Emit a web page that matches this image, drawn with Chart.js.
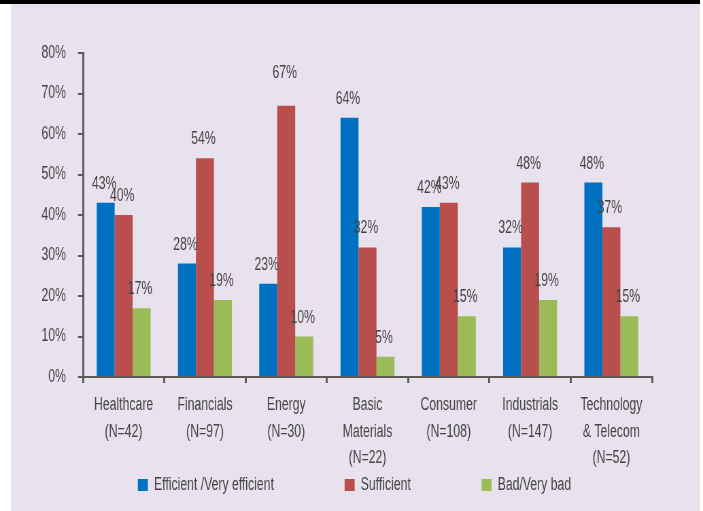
<!DOCTYPE html>
<html>
<head>
<meta charset="utf-8">
<script src="https://cdn.jsdelivr.net/npm/chart.js@4.4.1/dist/chart.umd.min.js"></script>
<style>
  html, body { margin: 0; padding: 0; background: #ffffff; }
  #wrap { position: relative; width: 703px; height: 511px; overflow: hidden; }
  #bg { position: absolute; left: 11px; top: 0; width: 689px; height: 511px; background: #E8E2EE; }
  #topbar { position: absolute; left: 0; top: 0; width: 700px; height: 4px; background: #000; }
  #c { position: absolute; left: 0; top: 0; transform: scaleX(0.679884); transform-origin: 0 0; }
</style>
</head>
<body>
<div id="wrap">
  <div id="bg"></div>
  <div id="topbar"></div>
  <canvas id="c" width="1034" height="511"></canvas>
</div>
<script>
const categories = [
  ["Healthcare", "(N=42)"],
  ["Financials", "(N=97)"],
  ["Energy", "(N=30)"],
  ["Basic", "Materials", "(N=22)"],
  ["Consumer", "(N=108)"],
  ["Industrials", "(N=147)"],
  ["Technology", "& Telecom", "(N=52)"]
];
const efficient = [43, 28, 23, 64, 42, 32, 48];
const sufficient = [40, 54, 67, 32, 43, 48, 37];
const bad = [17, 19, 10, 5, 15, 19, 15];
const seriesNames = ["Efficient /Very efficient", "Sufficient", "Bad/Very bad"];
const yTicks = [0, 10, 20, 30, 40, 50, 60, 70, 80];

// the canvas is drawn wide and squeezed horizontally (condensed lettering)
const SX = 0.679884;
const px = (v) => v / SX;

const FONT = "'Liberation Sans', Arial, sans-serif";
const TXT = '#444444';
const AXIS = '#5a5a5a';
const LEGEND_CENTER_Y = 485;

const valueLabels = {
  id: 'valueLabels',
  afterDatasetsDraw(chart, args, opts) {
    const ctx = chart.ctx;
    const lift = opts.extraLift || {};
    ctx.save();
    ctx.font = "18px " + FONT;
    ctx.fillStyle = TXT;
    ctx.textAlign = 'center';
    ctx.textBaseline = 'alphabetic';
    chart.data.datasets.forEach((ds, i) => {
      const meta = chart.getDatasetMeta(i);
      meta.data.forEach((el, j) => {
        const extra = lift[i + ':' + j] || 0;
        ctx.fillText(ds.data[j] + '%', el.x - px(1.5), el.y - 14 - extra);
      });
    });
    ctx.restore();
  }
};

// legend: wide horizontal gaps but compact vertical footprint
const legendPlacement = {
  id: 'legendPlacement',
  beforeLayout(chart) {
    const lg = chart.legend;
    if (lg && !lg._fitWrapped) {
      const origFit = lg.fit;
      lg.fit = function () { origFit.call(this); this.height = 26; };
      lg._fitWrapped = true;
    }
  },
  afterLayout(chart) {
    const lg = chart.legend;
    if (!lg) return;
    const pad = lg.options.labels.padding;
    const itemH = Math.max(lg.options.labels.font.size, lg.options.labels.boxHeight);
    lg.top = LEGEND_CENTER_Y - itemH / 2 - pad;
    lg.bottom = chart.height;
    lg.height = lg.bottom - lg.top;
    lg.left += px(3);
    lg.right += px(3);
  }
};

new Chart(document.getElementById('c'), {
  type: 'bar',
  data: {
    labels: categories,
    datasets: [
      { label: seriesNames[0], data: efficient, backgroundColor: '#0070C0' },
      { label: seriesNames[1], data: sufficient, backgroundColor: '#B94F4D' },
      { label: seriesNames[2], data: bad, backgroundColor: '#9BBB59' }
    ]
  },
  options: {
    responsive: false,
    animation: false,
    devicePixelRatio: 1,
    categoryPercentage: 0.664,
    barPercentage: 1.0,
    layout: { padding: { top: 53, right: 0, left: 0, bottom: 8 } },
    plugins: {
      tooltip: { enabled: false },
      valueLabels: { extraLift: { '1:2': 14 } },
      legend: {
        position: 'bottom',
        labels: {
          boxWidth: px(10),
          boxHeight: 12,
          padding: 104,
          color: TXT,
          font: { family: FONT, size: 18 }
        }
      }
    },
    scales: {
      x: {
        grid: { display: true, drawOnChartArea: false, drawTicks: true, tickLength: 6, color: AXIS, lineWidth: px(2), offset: true },
        border: { display: true, color: AXIS, width: 2 },
        ticks: { color: TXT, padding: 9, maxRotation: 0, autoSkip: false, font: { family: FONT, size: 18, lineHeight: 1.467 } },
        afterFit: (s) => { s.height = 100; }
      },
      y: {
        min: 0, max: 80,
        afterBuildTicks: (s) => { s.ticks = yTicks.map(v => ({ value: v })); },
        grid: { display: true, drawOnChartArea: false, drawTicks: true, tickLength: px(5), color: AXIS, lineWidth: 2 },
        border: { display: true, color: AXIS, width: px(2) },
        ticks: { color: TXT, padding: px(12), font: { family: FONT, size: 18 }, callback: (v) => v + '%' },
        afterFit: (s) => { s.width = px(83); }
      },
      yRightSpace: {
        type: 'linear',
        position: 'right',
        display: true,
        grid: { display: false },
        border: { display: false },
        ticks: { display: false },
        afterFit: (s) => { s.width = px(703 - 652); }
      }
    }
  },
  plugins: [valueLabels, legendPlacement]
});
</script>
</body>
</html>
